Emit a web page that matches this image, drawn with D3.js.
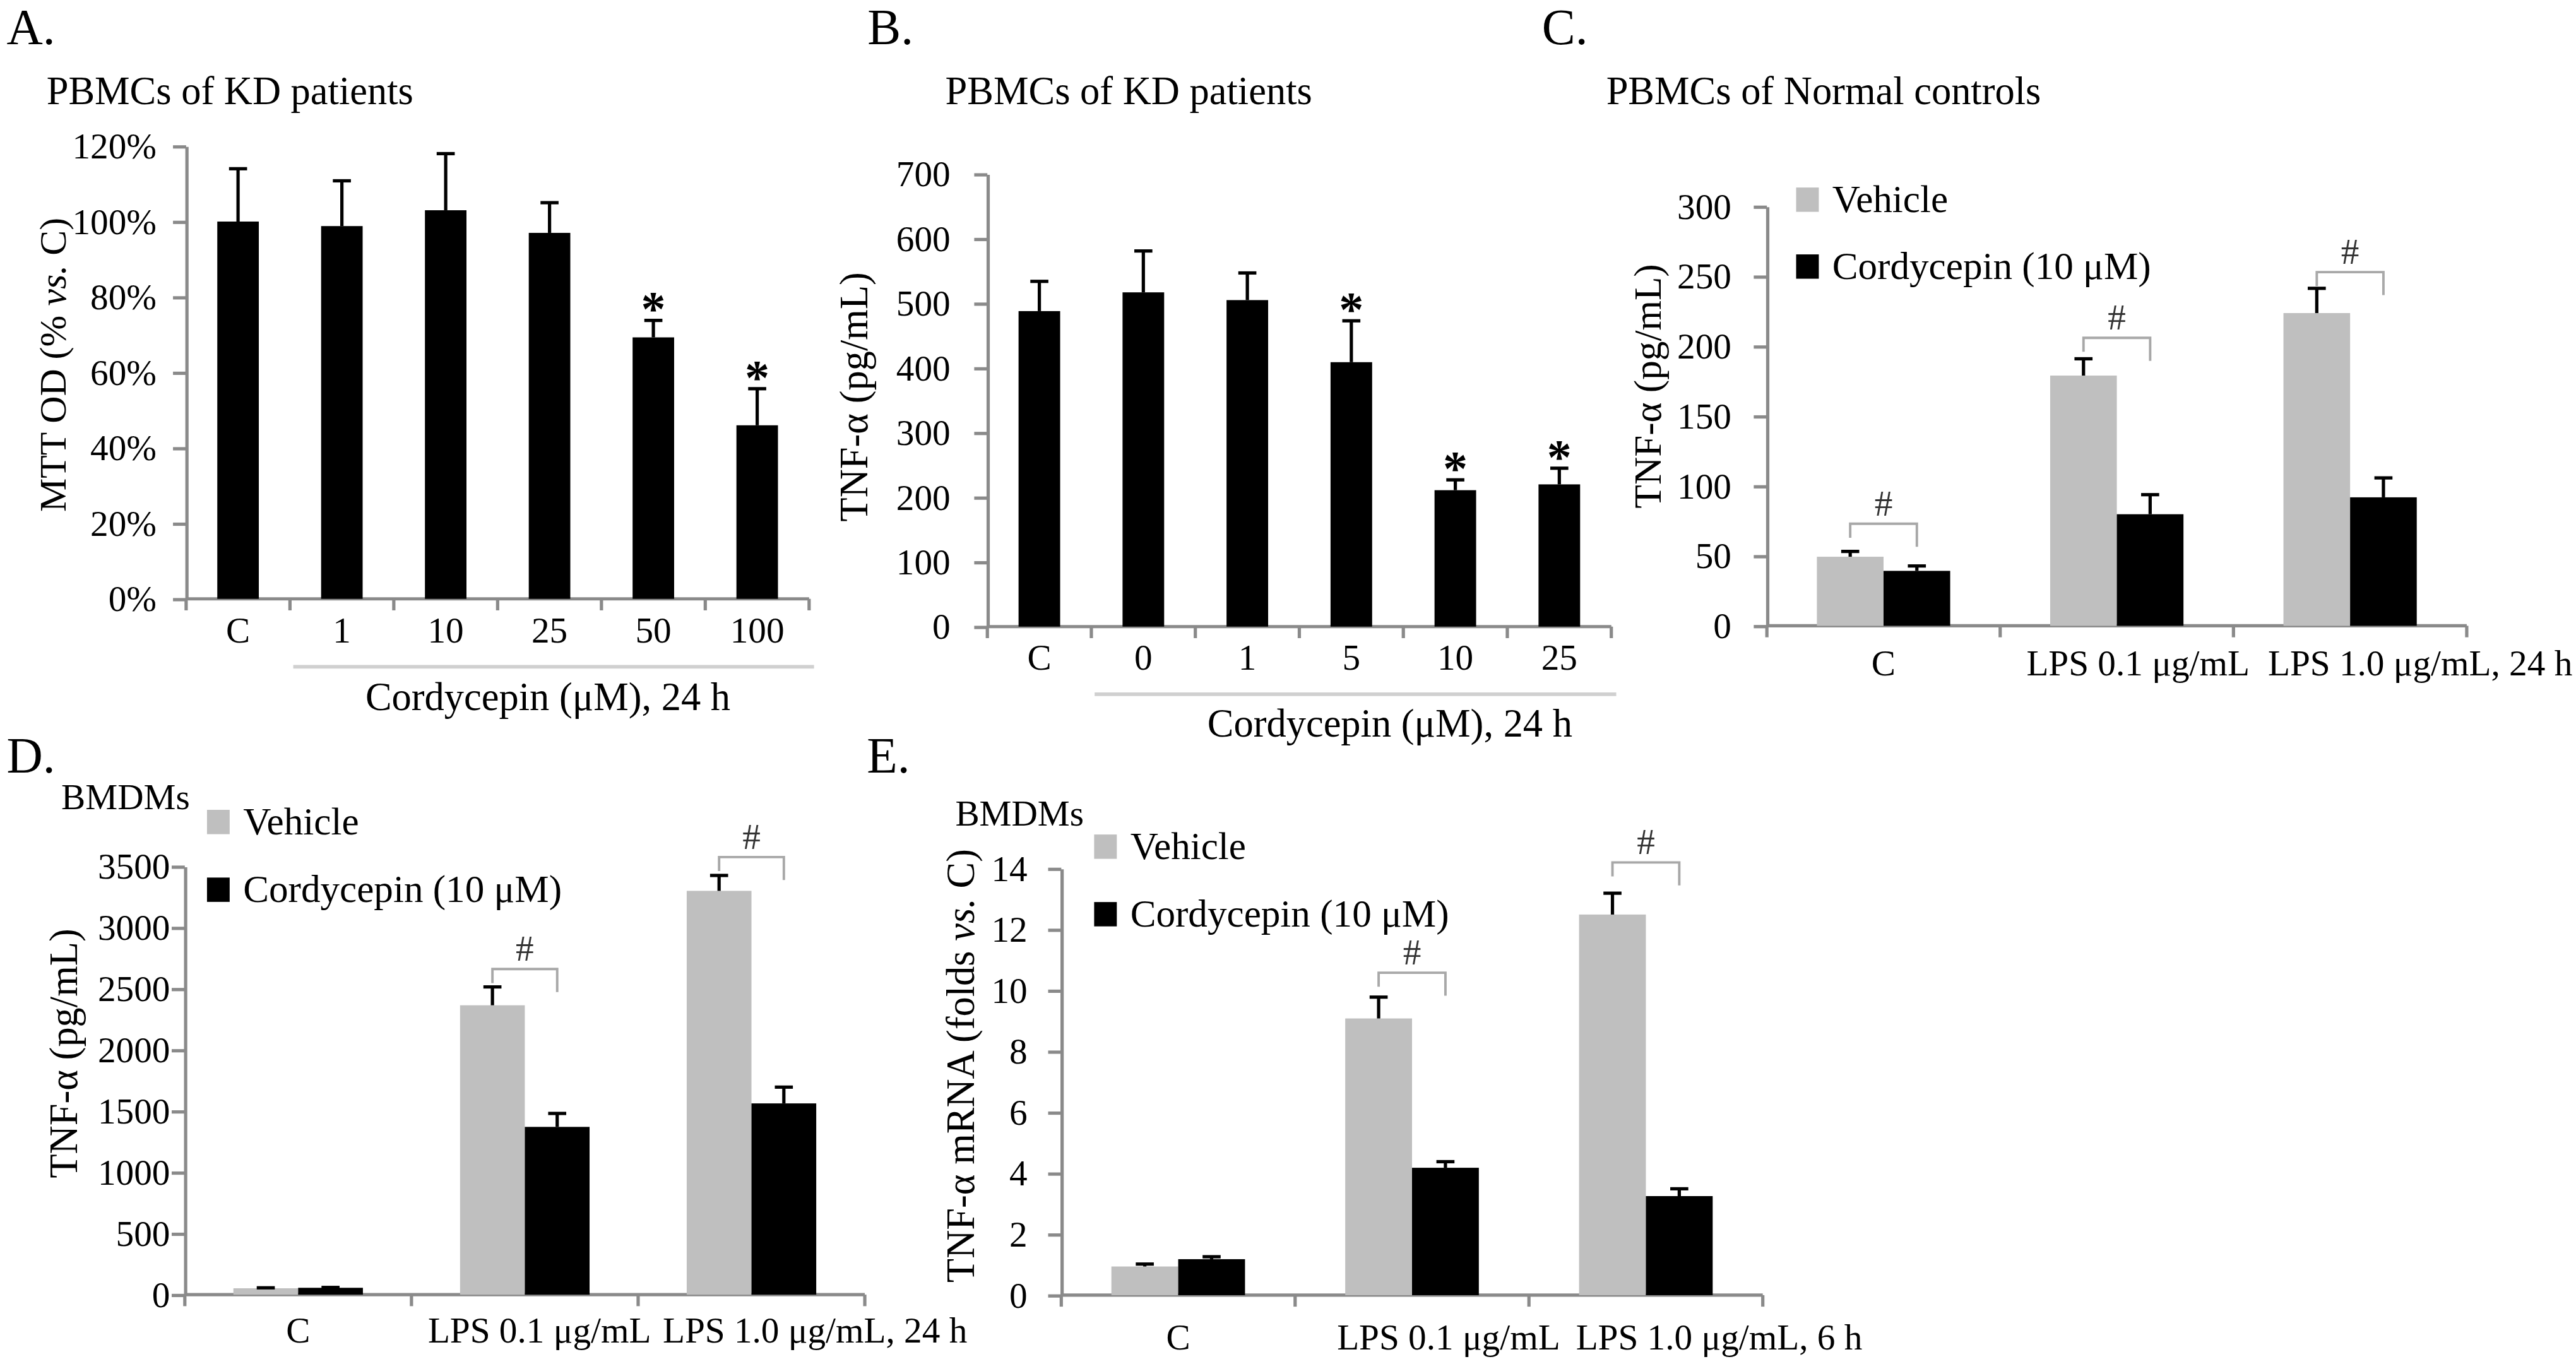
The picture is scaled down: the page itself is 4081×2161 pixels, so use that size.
<!DOCTYPE html>
<html>
<head>
<meta charset="utf-8">
<script src="https://d3js.org/d3.v7.min.js"></script>
<style>
    body { margin: 0; background: #fff; }
    svg text { font-family: "Liberation Serif", "Times New Roman", "DejaVu Serif", serif; fill: #000; }
    .axis path, .axis line { stroke: #8a8a8a; stroke-width: 2; }
    .axis text { font-size: 22px; }
</style>
</head>
<body>
<script>
    // A. MTT, PBMCs of KD patients
    var catsA = ["C", "1", "10", "25", "50", "100"];
    var mttMean = [100, 98.8, 103, 97, 69.3, 46];
    var mttErr = [14, 12, 15, 8, 4.5, 9.7];
    var mttStar = [false, false, false, false, true, true];
    var ticksA = [0, 20, 40, 60, 80, 100, 120];

    // B. TNF-a, PBMCs of KD patients
    var catsB = ["C", "0", "1", "5", "10", "25"];
    var tnfKD = [488, 517, 505, 409, 211, 220];
    var tnfKDErr = [46, 64, 42, 64, 16, 25];
    var tnfKDStar = [false, false, false, true, true, true];
    var ticksB = [0, 100, 200, 300, 400, 500, 600, 700];

    // grouped panels
    var groups = ["C", "LPS 0.1 μg/mL", "LPS 1.0 μg/mL"];
    var series = ["Vehicle", "Cordycepin (10 μM)"];

    // C. TNF-a, PBMCs of normal controls
    var vehNC = [49.4, 179, 223.7];
    var vehNCErr = [3.8, 12, 17.7];
    var corNC = [39.3, 79.8, 91.9];
    var corNCErr = [3.5, 14, 13.9];
    var sigNC = [73, 206, 253];
    var ticksC = [0, 50, 100, 150, 200, 250, 300];

    // D. TNF-a protein, BMDMs
    var vehBM = [52, 2365, 3300];
    var vehBMErr = [4, 150, 126];
    var corBM = [56, 1371, 1563];
    var corBMErr = [3, 110, 133];
    var sigBM = [null, 2661, 3576];
    var ticksD = [0, 500, 1000, 1500, 2000, 2500, 3000, 3500];

    // E. TNF-a mRNA, BMDMs
    var vehMR = [0.94, 9.08, 12.49];
    var vehMRErr = [0.08, 0.7, 0.7];
    var corMR = [1.18, 4.18, 3.25];
    var corMRErr = [0.08, 0.2, 0.24];
    var sigMR = [null, 10.58, 14.2];
    var ticksE = [0, 2, 4, 6, 8, 10, 12, 14];

    var colors = ["#bfbfbf", "#000000"];

    var svg = d3.select("body").append("svg")
        .attr("width", 4081)
        .attr("height", 2161)
        .attr("viewBox", "0 0 1568 830")
        .attr("preserveAspectRatio", "none")
        .attr("font-family", "Liberation Serif, serif");

    function txt(x, y, s, size, anchor) {
        return svg.append("text")
            .attr("x", x).attr("y", y)
            .attr("font-size", size)
            .attr("text-anchor", anchor || "start")
            .text(s);
    }

    function yTitle(x, y, size, parts) {
        var t = svg.append("text")
            .attr("transform", "translate(" + x + "," + y + ") rotate(-90)")
            .attr("text-anchor", "middle")
            .attr("font-size", size);
        parts.forEach(function (p) {
            t.append("tspan").attr("font-style", p[1] ? "italic" : null).text(p[0]);
        });
    }

    // common axes: y axis via d3, x axis line with ticks between categories
    function axes(p, x, y) {
        var g = svg.append("g");
        g.append("g")
            .attr("class", "axis")
            .attr("transform", "translate(" + p.x0 + ",0)")
            .call(d3.axisLeft(y).tickValues(p.ticks).tickSize(8).tickSizeOuter(0)
                .tickPadding(p.pad).tickFormat(p.fmt || d3.format("d")));
        g.append("line")
            .attr("x1", p.x0).attr("x2", p.x1)
            .attr("y1", y(0)).attr("y2", y(0))
            .attr("stroke", "#8a8a8a").attr("stroke-width", 2);
        var bounds = p.cats.map(function (c) { return x(c); }).concat([p.x1]);
        g.selectAll("line.xt").data(bounds).enter().append("line")
            .attr("x1", function (d) { return d; })
            .attr("x2", function (d) { return d; })
            .attr("y1", y(0)).attr("y2", y(0) + 7)
            .attr("stroke", "#8a8a8a").attr("stroke-width", 2);
        return g;
    }

    function errBar(g, cx, yv, ye) {
        g.append("line").attr("x1", cx).attr("x2", cx).attr("y1", yv).attr("y2", ye)
            .attr("stroke", "#000").attr("stroke-width", 2);
        g.append("line").attr("x1", cx - 5.5).attr("x2", cx + 5.5).attr("y1", ye).attr("y2", ye)
            .attr("stroke", "#000").attr("stroke-width", 2);
    }

    function singlePanel(p) {
        var x = d3.scaleBand().domain(p.cats).range([p.x0, p.x1]);
        var y = d3.scaleLinear().domain([0, p.max]).range([p.y0, p.yTop]);
        var g = axes(p, x, y);
        var bw = x.bandwidth();

        g.selectAll("rect.bar").data(p.cats).enter().append("rect")
            .attr("x", function (c) { return x(c) + bw * 0.3; })
            .attr("width", bw * 0.4)
            .attr("y", function (c, i) { return y(p.vals[i]); })
            .attr("height", function (c, i) { return y(0) - y(p.vals[i]); })
            .attr("fill", "#000");

        p.cats.forEach(function (c, i) {
            var cx = x(c) + bw / 2;
            var top = y(p.vals[i] + p.errs[i]);
            errBar(g, cx, y(p.vals[i]), top);
            if (p.stars[i]) {
                g.append("text").attr("x", cx).attr("y", top + 3)
                    .attr("text-anchor", "middle").attr("font-size", 30)
                    .attr("font-weight", "bold").text("*");
            }
            g.append("text").attr("x", cx).attr("y", y(0) + p.lblDy)
                .attr("text-anchor", "middle").attr("font-size", 22).text(c);
        });

        // treatment bracket line + caption
        g.append("line")
            .attr("x1", x(p.cats[1]) + 2).attr("x2", p.x1 + 3)
            .attr("y1", p.lineY).attr("y2", p.lineY)
            .attr("stroke", "#d0d0d0").attr("stroke-width", 2.2);
        g.append("text").attr("x", p.capX).attr("y", p.capY)
            .attr("text-anchor", "middle").attr("font-size", 24)
            .text("Cordycepin (μM), 24 h");
    }

    function groupPanel(p) {
        var x = d3.scaleBand().domain(p.cats).range([p.x0, p.x1]);
        var bw = x.bandwidth();
        var inner = d3.scaleBand().domain(series).range([bw * 0.75 / 3.5, bw * 2.75 / 3.5]);
        var y = d3.scaleLinear().domain([0, p.max]).range([p.y0, p.yTop]);
        var g = axes(p, x, y);
        var rows = [[p.veh, p.vehErr], [p.cor, p.corErr]];

        series.forEach(function (s, k) {
            g.selectAll("rect.s" + k).data(p.cats).enter().append("rect")
                .attr("x", function (c) { return x(c) + inner(s); })
                .attr("width", inner.bandwidth())
                .attr("y", function (c, i) { return y(rows[k][0][i]); })
                .attr("height", function (c, i) { return y(0) - y(rows[k][0][i]); })
                .attr("fill", colors[k]);
        });
        series.forEach(function (s, k) {
            p.cats.forEach(function (c, i) {
                var v = rows[k][0][i], e = rows[k][1][i];
                errBar(g, x(c) + inner(s) + inner.bandwidth() / 2, y(v), y(v + e));
            });
        });

        // significance brackets
        p.cats.forEach(function (c, i) {
            if (p.sig[i] == null) return;
            var xa = x(c) + inner(series[0]) + inner.bandwidth() / 2;
            var xb = x(c) + inner(series[1]) + inner.bandwidth() / 2;
            var yb = y(p.sig[i]);
            g.append("path")
                .attr("d", "M" + xa + "," + (yb + 8.5) + "V" + yb + "H" + xb + "V" + (yb + 14))
                .attr("fill", "none").attr("stroke", "#a8a8a8").attr("stroke-width", 1.5);
            g.append("text").attr("x", (xa + xb) / 2).attr("y", yb - 5)
                .attr("text-anchor", "middle").attr("font-size", 22)
                .style("fill", "#333").text("#");
        });

        // category labels
        p.cats.forEach(function (c, i) {
            var t = g.append("text").attr("y", y(0) + p.lblDy).attr("font-size", 22);
            if (i === 0) {
                t.attr("x", x(c) + bw / 2).attr("text-anchor", "middle").text(c);
            } else {
                t.attr("x", x(c) + p.lblOff[i]).text(c + (i === p.cats.length - 1 ? p.suffix : ""));
            }
        });

        // legend
        series.forEach(function (s, k) {
            var ly = p.legY[k];
            g.append("rect").attr("x", p.legX).attr("y", ly - 14.8)
                .attr("width", 13.8).attr("height", 14.8).attr("fill", colors[k]);
            g.append("text").attr("x", p.legX + 22).attr("y", ly)
                .attr("font-size", 23.5).text(s);
        });
    }

    // ---- Panel A ----
    txt(4, 27, "A.", 30.5);
    txt(28.3, 63.3, "PBMCs of KD patients", 24);
    singlePanel({
        cats: catsA, vals: mttMean, errs: mttErr, stars: mttStar,
        ticks: ticksA, max: 120, fmt: function (d) { return d + "%"; },
        x0: 113.3, x1: 492.5, y0: 364.4, yTop: 88.9, pad: 10, lblDy: 26.6,
        lineY: 405.7, capX: 333.5, capY: 432
    });
    yTitle(40, 222, 23, [["MTT OD (% "], ["vs.", true], [" C)"]]);

    // ---- Panel B ----
    txt(528, 27, "B.", 30.5);
    txt(575.4, 63.3, "PBMCs of KD patients", 24);
    singlePanel({
        cats: catsB, vals: tnfKD, errs: tnfKDErr, stars: tnfKDStar,
        ticks: ticksB, max: 700,
        x0: 601, x1: 980.8, y0: 381.3, yTop: 105.9, pad: 14.5, lblDy: 26.1,
        lineY: 422.4, capX: 846, capY: 448.4
    });
    yTitle(528, 241.5, 24, [["TNF-α (pg/mL)"]]);

    // ---- Panel C ----
    txt(938.6, 27, "C.", 30.5);
    txt(977.7, 63.3, "PBMCs of Normal controls", 24);
    groupPanel({
        cats: groups, veh: vehNC, vehErr: vehNCErr, cor: corNC, corErr: corNCErr, sig: sigNC,
        ticks: ticksC, max: 300,
        x0: 1075.5, x1: 1501.5, y0: 380.8, yTop: 125.6, pad: 13.6, lblDy: 30.2,
        lblOff: [0, 16, 21], suffix: ", 24 h",
        legX: 1093.3, legY: [128.9, 169.6]
    });
    yTitle(1010.8, 235, 23.5, [["TNF-α (pg/mL)"]]);

    // ---- Panel D ----
    txt(4, 470, "D.", 30.5);
    txt(37.3, 492.5, "BMDMs", 22);
    groupPanel({
        cats: groups, veh: vehBM, vehErr: vehBMErr, cor: corBM, corErr: corBMErr, sig: sigBM,
        ticks: ticksD, max: 3500,
        x0: 112.5, x1: 526.4, y0: 787.8, yTop: 527.2, pad: 1, lblDy: 29,
        lblOff: [0, 10, 15], suffix: ", 24 h",
        legX: 126, legY: [507.6, 548.8]
    });
    yTitle(47, 641, 24, [["TNF-α (pg/mL)"]]);

    // ---- Panel E ----
    txt(527.6, 470, "E.", 30.5);
    txt(581.5, 502.5, "BMDMs", 22);
    groupPanel({
        cats: groups, veh: vehMR, vehErr: vehMRErr, cor: corMR, corErr: corMRErr, sig: sigMR,
        ticks: ticksE, max: 14,
        x0: 646, x1: 1073, y0: 788.1, yTop: 528.5, pad: 12.6, lblDy: 33,
        lblOff: [0, 25.5, 28.6], suffix: ", 6 h",
        legX: 666, legY: [522.6, 563.7]
    });
    yTitle(592.8, 648.5, 24, [["TNF-α mRNA (folds "], ["vs.", true], [" C)"]]);
</script>
</body>
</html>
